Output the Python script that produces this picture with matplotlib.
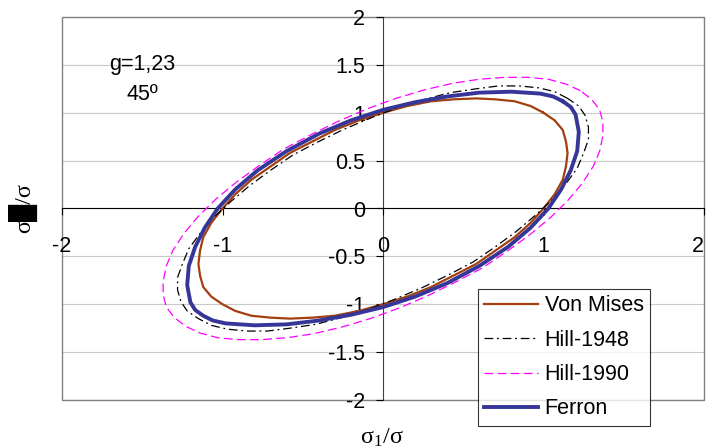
import matplotlib
matplotlib.use("Agg")
import matplotlib.pyplot as plt
from matplotlib.patches import Rectangle

plt.rcParams["font.family"] = ["Liberation Sans", "DejaVu Sans"]
plt.rcParams["axes.unicode_minus"] = False
plt.rcParams["mathtext.fontset"] = "custom"
plt.rcParams["mathtext.rm"] = "Liberation Serif"

# yield loci, (sigma_1/sigma, sigma_2/sigma)
von_mises_s1 = [1.00, 0.92, 0.82, 0.70, 0.58, 0.44, 0.30, 0.15, 0.00, -0.15, -0.30, -0.44, -0.58,
                -0.70, -0.82, -0.92, -1.00, -1.07, -1.12, -1.14, -1.15, -1.14, -1.12, -1.07, -1.00,
                -0.92, -0.82, -0.70, -0.58, -0.44, -0.30, -0.15, 0.00, 0.15, 0.30, 0.44, 0.58,
                0.70, 0.82, 0.92, 1.00, 1.07, 1.12, 1.14, 1.15, 1.14, 1.12, 1.07, 1.00]
von_mises_s2 = [1.00, 1.07, 1.12, 1.14, 1.15, 1.14, 1.12, 1.07, 1.00, 0.92, 0.82, 0.70, 0.58,
                0.44, 0.30, 0.15, 0.00, -0.15, -0.30, -0.44, -0.58, -0.70, -0.82, -0.92, -1.00,
                -1.07, -1.12, -1.14, -1.15, -1.14, -1.12, -1.07, -1.00, -0.92, -0.82, -0.70, -0.58,
                -0.44, -0.30, -0.15, 0.00, 0.15, 0.30, 0.44, 0.58, 0.70, 0.82, 0.92, 1.00]

hill1948_s1 = [1.15, 1.07, 0.97, 0.85, 0.72, 0.58, 0.42, 0.26, 0.10, -0.07, -0.24, -0.40, -0.56,
               -0.70, -0.83, -0.95, -1.06, -1.14, -1.21, -1.25, -1.28, -1.28, -1.26, -1.22, -1.15,
               -1.07, -0.97, -0.85, -0.72, -0.58, -0.42, -0.26, -0.10, 0.07, 0.24, 0.40, 0.56,
               0.70, 0.83, 0.95, 1.06, 1.14, 1.21, 1.25, 1.28, 1.28, 1.26, 1.22, 1.15]
hill1948_s2 = [1.15, 1.22, 1.26, 1.28, 1.28, 1.25, 1.21, 1.14, 1.06, 0.95, 0.83, 0.70, 0.56,
               0.40, 0.24, 0.07, -0.10, -0.26, -0.42, -0.58, -0.72, -0.85, -0.97, -1.07, -1.15,
               -1.22, -1.26, -1.28, -1.28, -1.25, -1.21, -1.14, -1.06, -0.95, -0.83, -0.70, -0.56,
               -0.40, -0.24, -0.07, 0.10, 0.26, 0.42, 0.58, 0.72, 0.85, 0.97, 1.07, 1.15]

hill1990_s1 = [1.23, 1.14, 1.03, 0.90, 0.76, 0.60, 0.44, 0.26, 0.08, -0.10, -0.28, -0.45, -0.62,
               -0.77, -0.91, -1.04, -1.15, -1.24, -1.31, -1.35, -1.37, -1.37, -1.35, -1.30, -1.23,
               -1.14, -1.03, -0.90, -0.76, -0.60, -0.44, -0.26, -0.08, 0.10, 0.28, 0.45, 0.62,
               0.77, 0.91, 1.04, 1.15, 1.24, 1.31, 1.35, 1.37, 1.37, 1.35, 1.30, 1.23]
hill1990_s2 = [1.23, 1.30, 1.35, 1.37, 1.37, 1.35, 1.31, 1.24, 1.15, 1.04, 0.91, 0.77, 0.62,
               0.45, 0.28, 0.10, -0.08, -0.26, -0.44, -0.60, -0.76, -0.90, -1.03, -1.14, -1.23,
               -1.30, -1.35, -1.37, -1.37, -1.35, -1.31, -1.24, -1.15, -1.04, -0.91, -0.77, -0.62,
               -0.45, -0.28, -0.10, 0.08, 0.26, 0.44, 0.60, 0.76, 0.90, 1.03, 1.14, 1.23]

ferron_s1 = [1.12, 1.06, 0.98, 0.80, 0.60, 0.40, 0.20, 0.00, -0.20, -0.40, -0.60, -0.78, -0.92,
             -1.03, -1.11, -1.17, -1.21, -1.22, -1.20, -1.17, -1.12, -1.06, -0.98, -0.80, -0.60,
             -0.40, -0.20, 0.00, 0.20, 0.40, 0.60, 0.78, 0.92, 1.03, 1.11, 1.17, 1.21, 1.22,
             1.20, 1.17, 1.12]
ferron_s2 = [1.12, 1.17, 1.20, 1.22, 1.21, 1.17, 1.11, 1.03, 0.92, 0.78, 0.60, 0.40, 0.20,
             0.00, -0.20, -0.40, -0.60, -0.80, -0.98, -1.06, -1.12, -1.17, -1.20, -1.22, -1.21,
             -1.17, -1.11, -1.03, -0.92, -0.78, -0.60, -0.40, -0.20, 0.00, 0.20, 0.40, 0.60, 0.80,
             0.98, 1.06, 1.12]

x_ticks = [-2, -1, 0, 1, 2]
y_ticks = [-2, -1.5, -1, -0.5, 0, 0.5, 1, 1.5, 2]
FS = 15.5

fig = plt.figure(figsize=(7.06, 4.48), dpi=100)
ax = fig.add_axes([62 / 706, 48 / 448, 642 / 706, 383 / 448])
ax.set_xlim(-2, 2)
ax.set_ylim(-2, 2)

# grid + plot-area border
for y in y_ticks:
    ax.axhline(y, color="#c8c8c8", lw=0.8, zorder=0)
ax.add_patch(Rectangle((0, 0), 1, 1, transform=ax.transAxes, fill=False,
                       ec="#808080", lw=1.0, zorder=1, clip_on=False))

# axes crossing at the origin
for side in ["top", "right"]:
    ax.spines[side].set_visible(False)
ax.spines["left"].set_position(("data", 0))
ax.spines["bottom"].set_position(("data", 0))
ax.spines["left"].set_color("#404040")
ax.spines["bottom"].set_color("black")
ax.spines["left"].set_zorder(1)
ax.spines["bottom"].set_zorder(1)
ax.set_xticks(x_ticks)
ax.set_yticks(y_ticks)
ax.set_xticklabels([f"{v:g}" for v in x_ticks])
ax.set_yticklabels([f"{v:g}" for v in y_ticks])
ax.tick_params(axis="x", direction="out", length=5, width=0.8, pad=15, labelsize=FS)
ax.tick_params(axis="y", direction="out", length=5, width=0.8, pad=8, labelsize=FS)
# last x label sits on the right edge: keep it inside the picture
ax.get_xticklabels()[-1].set_horizontalalignment("right")

ax.plot(von_mises_s1, von_mises_s2, color="#a33f0f", lw=1.6, label="Von Mises", zorder=3)
ax.plot(hill1948_s1, hill1948_s2, color="black", lw=0.9, dashes=(7, 3, 1.5, 3),
        label="Hill-1948", zorder=3)
ax.plot(hill1990_s1, hill1990_s2, color="#ff00ff", lw=0.9, dashes=(7, 3.5),
        label="Hill-1990", zorder=3)
ax.plot(ferron_s1, ferron_s2, color="#363699", lw=2.8, label="Ferron", zorder=4)

ax.text(-1.5, 1.5, "g=1,23", fontsize=FS, ha="center", va="center")
ax.text(-1.5, 1.19, "45º", fontsize=FS, ha="center", va="center")

fig.text(382 / 706, 1 - 438 / 448, r"$\mathrm{\sigma_1/\sigma}$", fontsize=FS + 2,
         ha="center", va="center")
fig.text(23 / 706, 1 - 208 / 448, "σ█/σ", fontsize=FS + 2, rotation=90,
         ha="center", va="center", family=["Liberation Serif", "DejaVu Sans"])

leg = fig.legend(loc="upper left", bbox_to_anchor=(478 / 706, 1 - 289 / 448),
                 fontsize=FS, frameon=True, fancybox=False, borderaxespad=0,
                 handlelength=2.5, handletextpad=0.3, labelspacing=0.62, borderpad=0.3)
leg.get_frame().set_edgecolor("black")
leg.get_frame().set_linewidth(0.8)

fig.savefig("out.png", dpi=100)
